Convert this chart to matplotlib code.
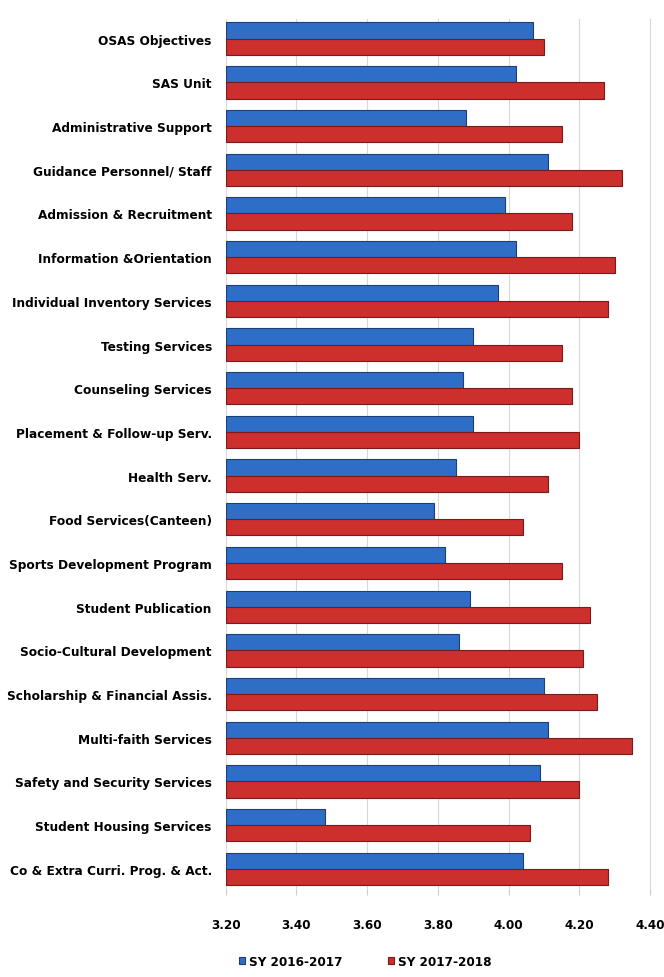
import numpy as np
import matplotlib.pyplot as plt
from matplotlib import font_manager

# look for a narrow / condensed bold face
narrow = None
for f in font_manager.fontManager.ttflist:
    if ('Narrow' in f.name or 'Condensed' in f.name or f.stretch in ('condensed', 'semi-condensed')) \
            and f.weight in ('bold', 700, 'heavy'):
        narrow = f.name
        break

if narrow:
    plt.rcParams['font.family'] = [narrow, 'Liberation Sans', 'DejaVu Sans']
    plt.rcParams['font.stretch'] = 'condensed'
    lab_size, tick_size, leg_size = 9.7, 9.6, 9.6
else:
    plt.rcParams['font.family'] = ['Liberation Sans', 'DejaVu Sans']
    lab_size, tick_size, leg_size = 9.0, 9.0, 9.0

categories = ["OSAS Objectives", "SAS Unit", "Administrative Support",
              "Guidance Personnel/ Staff", "Admission & Recruitment",
              "Information &Orientation", "Individual Inventory Services",
              "Testing Services", "Counseling Services",
              "Placement & Follow-up Serv.", "Health Serv.",
              "Food Services(Canteen)", "Sports Development Program",
              "Student Publication", "Socio-Cultural Development",
              "Scholarship & Financial Assis.", "Multi-faith Services",
              "Safety and Security Services", "Student Housing Services",
              "Co & Extra Curri. Prog. & Act."]
sy_2016 = [4.07, 4.02, 3.88, 4.11, 3.99, 4.02, 3.97, 3.90, 3.87, 3.90,
           3.85, 3.79, 3.82, 3.89, 3.86, 4.10, 4.11, 4.09, 3.48, 4.04]
sy_2017 = [4.10, 4.27, 4.15, 4.32, 4.18, 4.30, 4.28, 4.15, 4.18, 4.20,
           4.11, 4.04, 4.15, 4.23, 4.21, 4.25, 4.35, 4.20, 4.06, 4.28]
ticks = [3.20, 3.40, 3.60, 3.80, 4.00, 4.20, 4.40]

fig = plt.figure(figsize=(6.64, 9.78), dpi=100)
ax = fig.add_axes([0.340, 0.090, 0.639, 0.890])

y = np.arange(len(categories))
h = 0.37
base = ticks[0]
ax.barh(y - h/2, np.array(sy_2016) - base, left=base, height=h,
        color='#2f6ec6', edgecolor='#1d3f78', linewidth=0.8, label='SY 2016-2017', zorder=3)
ax.barh(y + h/2, np.array(sy_2017) - base, left=base, height=h,
        color='#cc2f2c', edgecolor='#7a1a1a', linewidth=0.8, label='SY 2017-2018', zorder=3)

ax.set_xlim(3.20, 4.40)
ax.set_ylim(len(categories) - 0.54, -0.46)
ax.set_xticks(ticks)
ax.set_xticklabels(['%.2f' % t for t in ticks], fontsize=tick_size, fontweight='bold')
ax.set_yticks(y)
ax.set_yticklabels(categories, fontsize=lab_size, fontweight='bold')
ax.tick_params(axis='y', length=0, pad=10)
ax.tick_params(axis='x', length=4, color='#cccccc', pad=17)
ax.grid(axis='x', color='#d8d8d8', linewidth=0.8, zorder=0)
for s in ['top', 'left', 'bottom']:
    ax.spines[s].set_visible(False)
ax.spines['right'].set_color('#d8d8d8')

fig.legend(loc='center', bbox_to_anchor=(0.55, 0.016), ncol=2, frameon=False,
           prop={'size': leg_size, 'weight': 'bold'}, handlelength=0.45, handleheight=0.45,
           handletextpad=0.3, columnspacing=3.4)

fig.savefig('out.png', dpi=100)
